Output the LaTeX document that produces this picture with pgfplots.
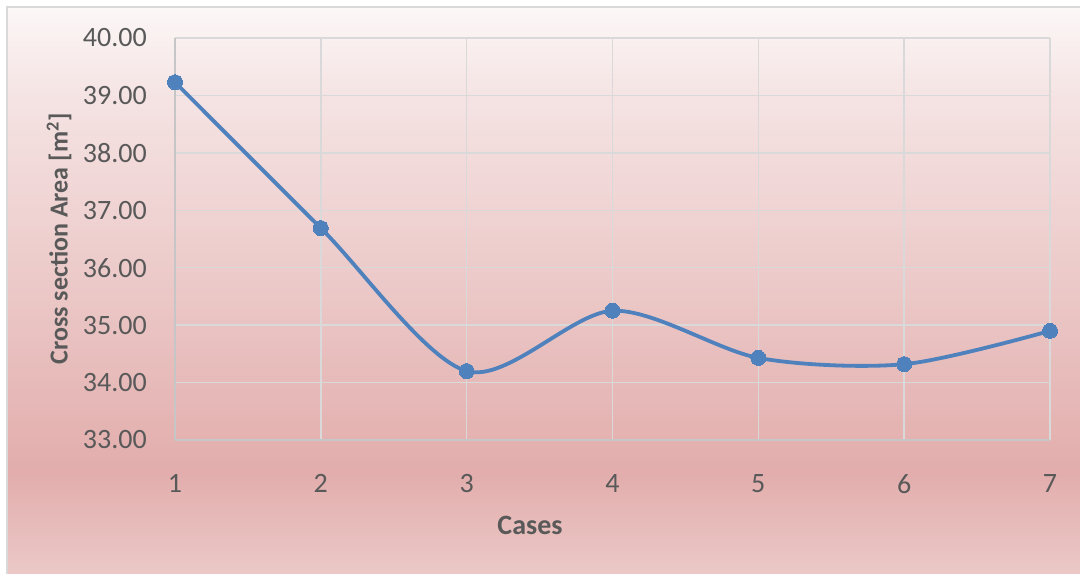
\documentclass[border=0pt]{standalone}
\usepackage{fontspec}
\setmainfont{Carlito}
\usepackage{pgfplots}
\pgfplotsset{compat=1.18}

\definecolor{linecol}{HTML}{4F81BD}
\definecolor{gridcol}{HTML}{D9D9D9}
\definecolor{axiscol}{HTML}{C6C6C6}
\definecolor{txtcol}{HTML}{595959}
\definecolor{framecol}{HTML}{D9D9D9}
\definecolor{bgtop}{HTML}{FCF7F7}
\definecolor{bgup}{HTML}{F5E3E3}
\definecolor{bgmid}{HTML}{EBC8C7}
\definecolor{bglow}{HTML}{E2ADAC}
\definecolor{bgbot}{HTML}{EBC9C7}

% chart area background, bottom to top (the filled box spans 25bp..75bp)
\pgfdeclareverticalshading{chartbg}{100bp}{%
  color(0bp)=(bgbot); color(25bp)=(bgbot); color(34bp)=(bglow);
  color(50bp)=(bgmid); color(67bp)=(bgup); color(75bp)=(bgtop);
  color(100bp)=(bgtop)}

\begin{document}
\begin{tikzpicture}
\path[use as bounding box] (0,0) rectangle (1080bp,574bp);
\fill[white] (0,0) rectangle (1080bp,574bp);
\shade[shading=chartbg] (7bp,0bp) rectangle (1080bp,567bp);
\draw[framecol, line width=2bp] (7bp,-5bp) -- (7bp,567bp) -- (1085bp,567bp);

\begin{axis}[
  at={(175bp,134bp)}, anchor=south west,
  scale only axis, width=875bp, height=402bp,
  xmin=1, xmax=7, ymin=33, ymax=40,
  xtick={1,...,7}, ytick={33,...,40},
  axis x line=bottom, axis y line=left,
  axis line style={draw=axiscol, line width=1.5bp, -},
  grid=major,
  major grid style={draw=gridcol, line width=1.5bp},
  major tick length=0pt,
  tick style={draw=none},
  /pgf/number format/assume math mode=true,
  yticklabel style={/pgf/number format/fixed, /pgf/number format/fixed zerofill,
    /pgf/number format/precision=2},
  tick label style={font=\fontsize{28bp}{32bp}\selectfont, text=txtcol, inner sep=0pt},
  yticklabel style={anchor=east, xshift=-28bp},
  xticklabel style={anchor=north, yshift=-34bp},
  xlabel={Cases}, ylabel={Cross section Area [m\textsuperscript{2}]},
  label style={text=txtcol},
  xlabel style={font=\fontsize{28bp}{32bp}\selectfont\bfseries,
    at={(axis description cs:0.4057,0)}, anchor=center, yshift=-85bp},
  ylabel style={font=\fontsize{26bp}{30bp}\selectfont\bfseries,
    at={(axis description cs:-0.1326,0.5)}, anchor=center},
  clip=false,
]
\addplot[linecol, line width=3.8bp, smooth, tension=0.5,
  mark=*, mark size=7.5bp, mark options={fill=linecol, draw=linecol, line width=0pt}]
  coordinates {(1,39.23) (2,36.69) (3,34.20) (4,35.25) (5,34.43) (6,34.32) (7,34.90)};
\end{axis}
\end{tikzpicture}
\end{document}
